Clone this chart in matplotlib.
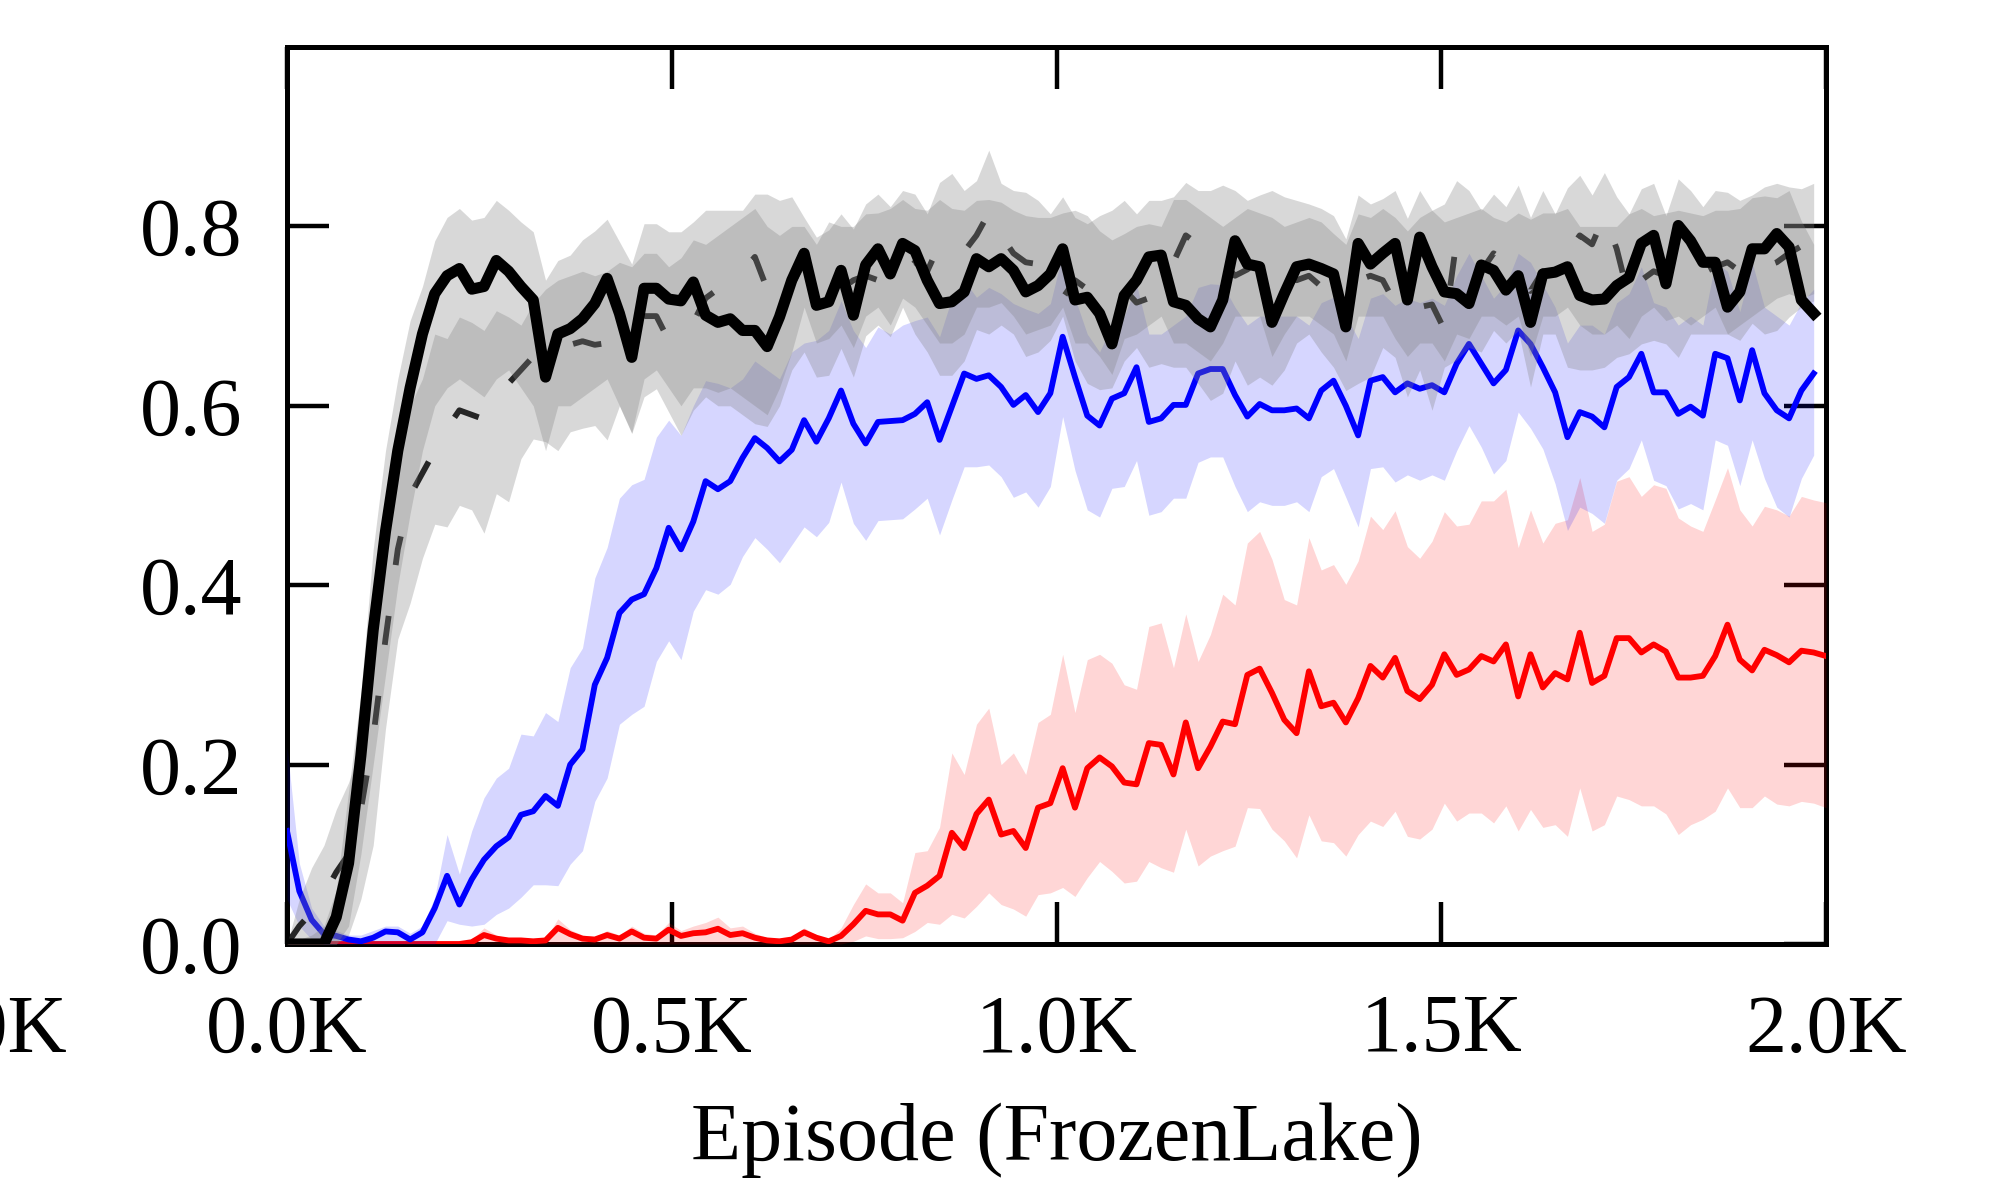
import matplotlib
matplotlib.use("Agg")
import matplotlib.pyplot as plt

plt.rcParams['font.family'] = ['Liberation Serif', 'DejaVu Serif']

# ---------------- data ----------------
episodes = list(range(0, 2000, 16))        # 0 .. 1984  (125 points)
episodes_red = list(range(0, 2001, 16))    # 0 .. 2000  (126 points)

solid_mean = [
    0, 0, 0, 0, 0.03, 0.09, 0.21, 0.35, 0.46, 0.55,
    0.62, 0.68, 0.725, 0.745, 0.753, 0.73, 0.733, 0.762, 0.75, 0.733,
    0.718, 0.632, 0.68, 0.686, 0.697, 0.714, 0.742, 0.703, 0.654, 0.731,
    0.731, 0.719, 0.717, 0.738, 0.701, 0.693, 0.697, 0.684, 0.684, 0.666,
    0.699, 0.74, 0.77, 0.712, 0.716, 0.751, 0.701, 0.757, 0.775, 0.747,
    0.781, 0.773, 0.74, 0.714, 0.716, 0.727, 0.764, 0.755, 0.764, 0.751,
    0.727, 0.734, 0.747, 0.775, 0.718, 0.721, 0.703, 0.669, 0.723, 0.74,
    0.766, 0.768, 0.716, 0.712, 0.697, 0.688, 0.718, 0.784, 0.758, 0.755,
    0.693, 0.725, 0.755, 0.758, 0.753, 0.747, 0.688, 0.781, 0.758, 0.77,
    0.781, 0.718, 0.788, 0.755, 0.727, 0.725, 0.714, 0.757, 0.751, 0.729,
    0.745, 0.693, 0.747, 0.749, 0.755, 0.723, 0.718, 0.719, 0.734, 0.743,
    0.781, 0.79, 0.736, 0.801, 0.784, 0.76, 0.76, 0.71, 0.727, 0.775,
    0.775, 0.792, 0.777, 0.718, 0.703]
solid_upper = [
    0.0, 0.005, 0.01, 0.02, 0.06, 0.17, 0.28, 0.44, 0.55, 0.63,
    0.695, 0.733, 0.784, 0.81, 0.82, 0.807, 0.81, 0.829, 0.818, 0.805,
    0.794, 0.74, 0.762, 0.768, 0.785, 0.795, 0.808, 0.783, 0.758, 0.803,
    0.803, 0.794, 0.794, 0.805, 0.818, 0.818, 0.818, 0.818, 0.836, 0.836,
    0.829, 0.833, 0.81, 0.788, 0.796, 0.814, 0.797, 0.825, 0.836, 0.822,
    0.84, 0.836, 0.814, 0.849, 0.859, 0.84, 0.851, 0.885, 0.848, 0.84,
    0.838, 0.829, 0.814, 0.833, 0.81, 0.803, 0.812, 0.818, 0.829, 0.814,
    0.829, 0.829, 0.833, 0.849, 0.84, 0.84, 0.846, 0.84, 0.829, 0.835,
    0.84, 0.833, 0.829, 0.825, 0.82, 0.812, 0.786, 0.835, 0.825, 0.831,
    0.84, 0.809, 0.84, 0.818, 0.825, 0.851, 0.84, 0.818, 0.836, 0.822,
    0.846, 0.81, 0.84, 0.814, 0.843, 0.857, 0.835, 0.86, 0.833, 0.814,
    0.842, 0.848, 0.812, 0.853, 0.84, 0.822, 0.84, 0.838, 0.829, 0.835,
    0.844, 0.848, 0.844, 0.842, 0.848]
solid_lower = [
    0, 0, 0, 0, 0, 0.02, 0.1, 0.2, 0.3, 0.4,
    0.48, 0.55, 0.6, 0.62, 0.63, 0.62, 0.61, 0.63, 0.64, 0.62,
    0.6, 0.55, 0.6, 0.6, 0.61, 0.62, 0.63, 0.6, 0.57, 0.63,
    0.64, 0.62, 0.6, 0.62, 0.62, 0.615, 0.62, 0.61, 0.6, 0.59,
    0.62, 0.66, 0.71, 0.67, 0.675, 0.69, 0.665, 0.7, 0.71, 0.69,
    0.72, 0.71, 0.69, 0.67, 0.67, 0.68, 0.71, 0.71, 0.715, 0.7,
    0.68, 0.685, 0.69, 0.71, 0.67, 0.67, 0.655, 0.635, 0.675, 0.68,
    0.69, 0.7, 0.67, 0.67, 0.66, 0.65, 0.67, 0.7, 0.7, 0.7,
    0.655, 0.68, 0.7, 0.7, 0.69, 0.68, 0.65, 0.7, 0.7, 0.7,
    0.675, 0.655, 0.67, 0.67, 0.65, 0.68, 0.675, 0.7, 0.7, 0.69,
    0.7, 0.655, 0.7, 0.7, 0.71, 0.69, 0.68, 0.68, 0.69, 0.675,
    0.7, 0.71, 0.695, 0.7, 0.69, 0.7, 0.71, 0.68, 0.69, 0.7,
    0.71, 0.72, 0.725, 0.72, 0.725]

dashed_mean = [
    0.0, 0.02, 0.035, 0.055, 0.08, 0.10, 0.15, 0.23, 0.34, 0.44,
    0.50, 0.525, 0.55, 0.575, 0.595, 0.59, 0.585, 0.605, 0.625, 0.64,
    0.655, 0.66, 0.655, 0.668, 0.672, 0.668, 0.67, 0.685, 0.69, 0.70,
    0.70, 0.673, 0.69, 0.693, 0.72, 0.73, 0.74, 0.75, 0.766, 0.73,
    0.715, 0.735, 0.76, 0.745, 0.735, 0.73, 0.74, 0.745, 0.74, 0.73,
    0.745, 0.76, 0.75, 0.78, 0.77, 0.772, 0.79, 0.815, 0.79, 0.77,
    0.76, 0.758, 0.735, 0.72, 0.74, 0.73, 0.738, 0.746, 0.73, 0.715,
    0.72, 0.738, 0.76, 0.79, 0.78, 0.775, 0.76, 0.745, 0.752, 0.765,
    0.76, 0.745, 0.74, 0.745, 0.733, 0.73, 0.735, 0.74, 0.745, 0.74,
    0.714, 0.70, 0.71, 0.713, 0.685, 0.785, 0.765, 0.75, 0.77, 0.76,
    0.745, 0.728, 0.75, 0.745, 0.77, 0.79, 0.78, 0.812, 0.775, 0.72,
    0.74, 0.75, 0.745, 0.735, 0.73, 0.748, 0.755, 0.76, 0.75, 0.74,
    0.755, 0.76, 0.77, 0.778, 0.77]
dashed_upper = [
    0.0, 0.05, 0.085, 0.11, 0.15, 0.18, 0.22, 0.32, 0.45, 0.55,
    0.6, 0.63, 0.68, 0.675, 0.699, 0.693, 0.684, 0.706, 0.699, 0.69,
    0.714, 0.73, 0.74, 0.745, 0.75, 0.745, 0.75, 0.76, 0.755, 0.77,
    0.77, 0.755, 0.765, 0.785, 0.78, 0.79, 0.8, 0.81, 0.82, 0.8,
    0.79, 0.8, 0.8, 0.78, 0.805, 0.8, 0.8, 0.814, 0.815, 0.82,
    0.83, 0.82, 0.818, 0.83, 0.82, 0.818, 0.829, 0.83, 0.827, 0.818,
    0.812, 0.81, 0.81, 0.815, 0.818, 0.812, 0.795, 0.785, 0.792, 0.8,
    0.803, 0.8, 0.83, 0.83, 0.82, 0.81, 0.8, 0.81, 0.82, 0.815,
    0.81, 0.8, 0.805, 0.81, 0.805, 0.792, 0.78, 0.814, 0.81, 0.82,
    0.81, 0.795, 0.81, 0.818, 0.805, 0.81, 0.815, 0.82, 0.81, 0.805,
    0.815, 0.808, 0.815, 0.815, 0.82, 0.8, 0.8, 0.8, 0.8, 0.814,
    0.82, 0.812, 0.815, 0.818, 0.815, 0.812, 0.818, 0.818, 0.82, 0.832,
    0.834, 0.832, 0.84, 0.806, 0.78]
dashed_lower = [
    0, 0, 0, 0, 0, 0.01, 0.05, 0.11, 0.24, 0.34,
    0.38, 0.43, 0.468, 0.465, 0.489, 0.484, 0.458, 0.502, 0.493, 0.541,
    0.563, 0.56, 0.55, 0.571, 0.575, 0.578, 0.562, 0.6, 0.569, 0.61,
    0.619, 0.593, 0.567, 0.595, 0.61, 0.6, 0.6, 0.59, 0.58, 0.577,
    0.6, 0.64, 0.66, 0.632, 0.634, 0.664, 0.632, 0.678, 0.69, 0.677,
    0.71, 0.68, 0.66, 0.634, 0.634, 0.65, 0.685, 0.68, 0.69, 0.68,
    0.655, 0.66, 0.673, 0.7, 0.65, 0.625, 0.618, 0.62, 0.65, 0.665,
    0.643, 0.647, 0.643, 0.643, 0.625, 0.606, 0.614, 0.65, 0.623, 0.632,
    0.623, 0.64, 0.67, 0.68, 0.66, 0.643, 0.617, 0.625, 0.632, 0.665,
    0.654, 0.61, 0.64, 0.595, 0.643, 0.651, 0.665, 0.66, 0.684, 0.67,
    0.684, 0.621, 0.68, 0.68, 0.643, 0.64, 0.64, 0.643, 0.654, 0.658,
    0.669, 0.673, 0.669, 0.654, 0.68, 0.68, 0.68, 0.68, 0.673, 0.692,
    0.68, 0.684, 0.699, 0.71, 0.717]

blue_mean = [
    0.126, 0.059, 0.027, 0.011, 0.009, 0.005, 0.003, 0.007, 0.014, 0.013,
    0.005, 0.013, 0.04, 0.076, 0.044, 0.072, 0.094, 0.109, 0.119, 0.144,
    0.148, 0.165, 0.154, 0.2, 0.217, 0.289, 0.319, 0.369, 0.384, 0.39,
    0.419, 0.464, 0.44, 0.471, 0.516, 0.507, 0.516, 0.542, 0.564, 0.553,
    0.538, 0.551, 0.584, 0.56, 0.586, 0.617, 0.58, 0.558, 0.582, 0.583,
    0.584, 0.591, 0.604, 0.562, 0.599, 0.636, 0.63, 0.634, 0.621, 0.601,
    0.612, 0.593, 0.614, 0.677, 0.632, 0.589, 0.578, 0.608, 0.614, 0.643,
    0.582, 0.586, 0.601, 0.601, 0.636, 0.641, 0.641, 0.612, 0.588, 0.602,
    0.595, 0.595, 0.597, 0.586, 0.617, 0.628, 0.6, 0.567, 0.628, 0.632,
    0.615, 0.625, 0.619, 0.623, 0.615, 0.647, 0.669, 0.647, 0.625, 0.64,
    0.684, 0.669, 0.643, 0.615, 0.565, 0.593, 0.588, 0.576, 0.621, 0.632,
    0.658, 0.615, 0.615, 0.591, 0.599, 0.589, 0.658, 0.653, 0.606, 0.662,
    0.614, 0.595, 0.586, 0.617, 0.636]
blue_upper = [
    0.22, 0.09, 0.04, 0.02, 0.015, 0.01, 0.01, 0.015, 0.02, 0.02,
    0.012, 0.02, 0.052, 0.122, 0.078, 0.126, 0.163, 0.185, 0.196, 0.234,
    0.232, 0.258, 0.248, 0.308, 0.33, 0.408, 0.442, 0.497, 0.512, 0.518,
    0.565, 0.584, 0.567, 0.6, 0.628, 0.625, 0.62, 0.63, 0.65, 0.64,
    0.63, 0.66, 0.67, 0.673, 0.684, 0.717, 0.684, 0.665, 0.688, 0.68,
    0.69, 0.695, 0.699, 0.677, 0.72, 0.74, 0.721, 0.732, 0.725, 0.714,
    0.708, 0.703, 0.714, 0.77, 0.72, 0.68, 0.66, 0.69, 0.7, 0.735,
    0.68, 0.68, 0.69, 0.7, 0.732, 0.736, 0.735, 0.71, 0.69, 0.7,
    0.7, 0.7, 0.7, 0.69, 0.715, 0.721, 0.7, 0.675, 0.72, 0.725,
    0.712, 0.72, 0.715, 0.72, 0.712, 0.745, 0.77, 0.745, 0.72, 0.735,
    0.77, 0.76, 0.735, 0.71, 0.67, 0.69, 0.69, 0.68, 0.715, 0.725,
    0.755, 0.715, 0.71, 0.69, 0.7, 0.69, 0.76, 0.75, 0.705, 0.76,
    0.71, 0.7, 0.69, 0.715, 0.73]
blue_lower = [
    0.05, 0.02, 0.005, 0, 0, 0, 0, 0, 0, 0,
    0, 0, 0, 0.026, 0.022, 0.02, 0.022, 0.033, 0.04, 0.052,
    0.066, 0.066, 0.065, 0.089, 0.104, 0.159, 0.185, 0.245, 0.256, 0.265,
    0.315, 0.338, 0.317, 0.371, 0.395, 0.39, 0.401, 0.432, 0.453, 0.44,
    0.425, 0.445, 0.465, 0.454, 0.47, 0.515, 0.469, 0.45, 0.472, 0.473,
    0.474, 0.485, 0.497, 0.456, 0.495, 0.532, 0.532, 0.534, 0.521, 0.498,
    0.504, 0.487, 0.51, 0.588, 0.528, 0.484, 0.476, 0.508, 0.51, 0.539,
    0.478, 0.482, 0.497, 0.497, 0.537, 0.543, 0.543, 0.51, 0.482, 0.493,
    0.489, 0.489, 0.493, 0.482, 0.521, 0.53, 0.498, 0.465, 0.53, 0.532,
    0.515, 0.523, 0.517, 0.523, 0.517, 0.55, 0.578, 0.554, 0.524, 0.539,
    0.593, 0.575, 0.552, 0.513, 0.461, 0.487, 0.48, 0.469, 0.517, 0.53,
    0.562, 0.517, 0.511, 0.485, 0.491, 0.484, 0.562, 0.556, 0.511, 0.562,
    0.519, 0.487, 0.476, 0.519, 0.545]

red_mean = [
    0, 0, 0, 0, 0, 0, 0, 0, 0, 0,
    0, 0, 0, 0, 0, 0.002, 0.01, 0.006, 0.004, 0.004,
    0.003, 0.004, 0.018, 0.011, 0.006, 0.005, 0.01, 0.006, 0.014, 0.007,
    0.006, 0.016, 0.009, 0.012, 0.013, 0.017, 0.01, 0.012, 0.007, 0.004,
    0.003, 0.005, 0.013, 0.007, 0.003, 0.009, 0.022, 0.037, 0.033, 0.033,
    0.026, 0.057, 0.065, 0.076, 0.124, 0.107, 0.145, 0.161, 0.122, 0.126,
    0.107, 0.152, 0.157, 0.196, 0.152, 0.196, 0.208, 0.198, 0.18, 0.178,
    0.224, 0.222, 0.189, 0.247, 0.196, 0.22, 0.248, 0.245, 0.3, 0.307,
    0.28, 0.25, 0.235, 0.304, 0.265, 0.269, 0.247, 0.274, 0.31, 0.297,
    0.319, 0.282, 0.273, 0.289, 0.323, 0.3, 0.306, 0.321, 0.315, 0.334,
    0.276, 0.323, 0.286, 0.302, 0.295, 0.347, 0.291, 0.299, 0.341, 0.341,
    0.325, 0.334, 0.326, 0.297, 0.297, 0.299, 0.321, 0.356, 0.317, 0.305,
    0.328, 0.322, 0.314, 0.327, 0.325, 0.321]
red_upper = [
    0.002, 0.002, 0.002, 0.002, 0.002, 0.002, 0.002, 0.002, 0.002, 0.002,
    0.002, 0.002, 0.002, 0.002, 0.002, 0.005, 0.018, 0.01, 0.006, 0.005,
    0.005, 0.006, 0.028, 0.016, 0.01, 0.008, 0.015, 0.01, 0.02, 0.012,
    0.01, 0.024, 0.015, 0.02, 0.024, 0.03, 0.018, 0.02, 0.012, 0.007,
    0.005, 0.008, 0.018, 0.01, 0.005, 0.018, 0.044, 0.067, 0.057, 0.057,
    0.046, 0.102, 0.104, 0.13, 0.213, 0.189, 0.245, 0.263, 0.2, 0.213,
    0.189, 0.247, 0.256, 0.323, 0.258, 0.317, 0.323, 0.313, 0.289, 0.284,
    0.354, 0.358, 0.308, 0.368, 0.315, 0.345, 0.39, 0.378, 0.447, 0.46,
    0.429, 0.384, 0.378, 0.453, 0.417, 0.423, 0.401, 0.427, 0.477, 0.462,
    0.483, 0.443, 0.43, 0.449, 0.482, 0.466, 0.468, 0.494, 0.494, 0.507,
    0.442, 0.484, 0.447, 0.469, 0.473, 0.52, 0.46, 0.468, 0.516, 0.521,
    0.499, 0.512, 0.508, 0.475, 0.466, 0.46, 0.495, 0.531, 0.484, 0.466,
    0.488, 0.484, 0.477, 0.499, 0.495, 0.492]
red_lower = [
    0, 0, 0, 0, 0, 0, 0, 0, 0, 0,
    0, 0, 0, 0, 0, 0, 0, 0, 0, 0,
    0, 0, 0, 0, 0, 0, 0, 0, 0, 0,
    0, 0, 0, 0, 0, 0, 0, 0, 0, 0,
    0, 0, 0, 0, 0, 0, 0.003, 0.009, 0.006, 0.006,
    0.007, 0.014, 0.024, 0.022, 0.033, 0.029, 0.042, 0.057, 0.044, 0.039,
    0.031, 0.055, 0.057, 0.063, 0.053, 0.074, 0.092, 0.081, 0.068, 0.07,
    0.092, 0.085, 0.08, 0.128, 0.087, 0.098, 0.104, 0.109, 0.152, 0.151,
    0.128, 0.115, 0.096, 0.144, 0.115, 0.113, 0.098, 0.122, 0.137, 0.131,
    0.148, 0.12, 0.117, 0.128, 0.157, 0.137, 0.146, 0.146, 0.135, 0.154,
    0.126, 0.15, 0.13, 0.133, 0.12, 0.174, 0.126, 0.133, 0.165, 0.161,
    0.154, 0.154, 0.145, 0.122, 0.133, 0.139, 0.148, 0.174, 0.152, 0.152,
    0.165, 0.156, 0.154, 0.159, 0.157, 0.152]

x_ticks = [0, 500, 1000, 1500, 2000]
x_tick_labels = ['0.0K', '0.5K', '1.0K', '1.5K', '2.0K']
y_ticks = [0.0, 0.2, 0.4, 0.6, 0.8]
y_tick_labels = ['0.0', '0.2', '0.4', '0.6', '0.8']
x_label = 'Episode (FrozenLake)'

# ---------------- figure ----------------
W, H = 2002, 1179
fig = plt.figure(figsize=(W / 100, H / 100), dpi=100)
L, R, T, B = 287, 1826, 47, 944
ax = fig.add_axes([L / W, 1 - B / H, (R - L) / W, (B - T) / H])

FS = 59

# red
ax.fill_between(episodes_red, red_lower, red_upper, color='red', alpha=0.16,
                linewidth=0, zorder=1.0)
ax.plot(episodes_red, red_mean, color='red', lw=4.2, zorder=1.1)
# blue
ax.fill_between(episodes, blue_lower, blue_upper, color='blue', alpha=0.16,
                linewidth=0, zorder=1.2)
ax.plot(episodes, blue_mean, color='blue', lw=4.2, zorder=1.3)
# dashed black
ax.plot(episodes, dashed_mean, color='black', lw=4.2, dashes=(5.0, 8.8),
        zorder=1.4)
ax.fill_between(episodes, dashed_lower, dashed_upper, color='gray', alpha=0.3,
                linewidth=0, zorder=1.5)
# solid black
ax.fill_between(episodes, solid_lower, solid_upper, color='gray', alpha=0.3,
                linewidth=0, zorder=1.6)
ax.plot(episodes, solid_mean, color='black', lw=8.0, zorder=2.0)

ax.set_xlim(0, 2000)
ax.set_ylim(0, 1.0)
ax.set_xticks(x_ticks)
ax.set_xticklabels(x_tick_labels)
ax.set_yticks(y_ticks)
ax.set_yticklabels(y_tick_labels)

ax.set_axisbelow(True)
for s in ax.spines.values():
    s.set_linewidth(3.6)
    s.set_zorder(0.5)

ax.tick_params(axis='both', direction='in', length=30, width=3.2,
               top=True, right=True, labelsize=FS)
ax.tick_params(axis='x', pad=36)
ax.tick_params(axis='y', pad=32)

ax.set_xlabel(x_label, fontsize=FS, labelpad=24)

# tick label of the neighbouring panel, cut by the figure's left edge
ax.annotate('2.0K', xy=(0, 0), xycoords='axes fraction',
            xytext=(-(L + 13.5) * 0.72, -36), textcoords='offset points',
            ha='center', va='top', fontsize=FS, annotation_clip=False)

fig.savefig('out.png', dpi=100)
